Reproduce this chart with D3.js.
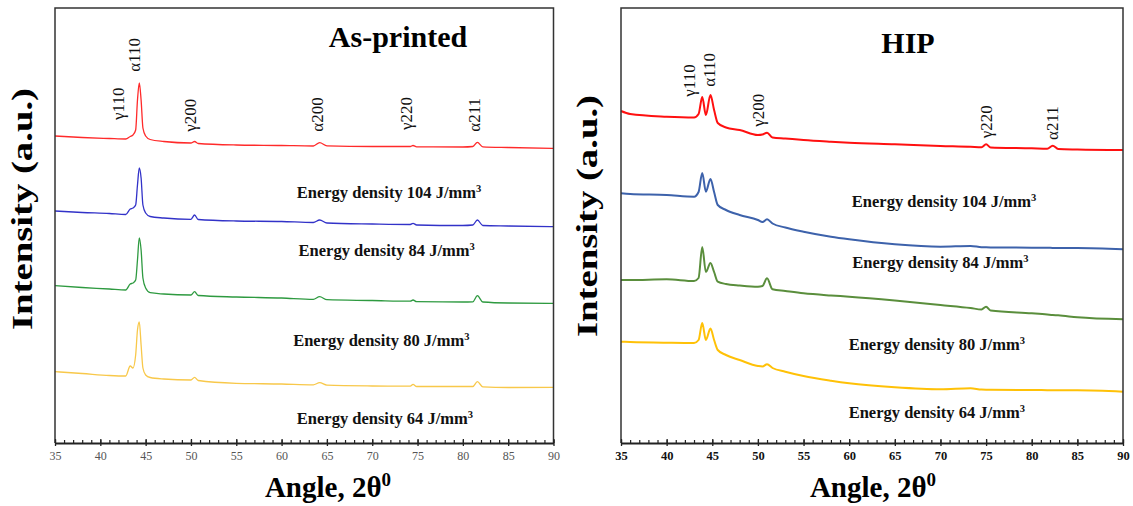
<!DOCTYPE html>
<html><head><meta charset="utf-8">
<script src="https://cdn.jsdelivr.net/npm/d3@7"></script>
<style>
html,body{margin:0;padding:0;background:#fff;}
svg{display:block;}
text{font-family:"Liberation Serif","Times New Roman",serif;}
</style></head>
<body>
<svg id="chart" width="1133" height="506"></svg>
<script>
// ---------- DATA ----------
const xTicks = [35,40,45,50,55,60,65,70,75,80,85,90];

// As-printed panel: shared angle grid (2θ)
const leftAngles = [35,38,41,42.8,43.3,43.6,43.9,44.1,44.3,44.5,44.7,45,45.5,47,50,50.4,50.8,55,60,63.5,64.2,65,70,74.2,74.5,74.9,80,81.1,81.6,82.2,85,90];
const leftRed104 = [307,305.5,304.5,304,306.5,308,313,343,360,343,315,307,303.5,301.5,300,301.5,299.5,298,297.5,297,300.3,297.2,296.5,296.5,297.5,296.2,296,296.5,300.7,296.2,295.5,294.7];
const leftBlue84 = [232,230.5,229.5,228.5,234,235,238,258,275,265,238,230,226.5,225,223.7,228,223.5,222,221.5,220.5,223,220,219,218.5,219.7,218,217.5,218,223,217.5,217,216.3];
const leftGreen80 = [157.3,155.5,154,153,159,160,163,183,205,193,165,155,150.3,149,148,151.3,147.5,146,145,143.7,146.3,143.3,142.5,141.8,143,141.3,141,141.2,147.3,141,140,139.7];
const leftYellow64 = [71.3,69.5,67.5,67,77,75,88,113,121,98,75,68,65.5,64,63,65.7,62.5,59.7,59,58.2,60.3,57.8,57,56.8,58.7,56.5,56.5,56.5,61.3,56.2,55.5,55.7];

// HIP panel: shared angle grid (2θ)
const rightAngles = [35,36,40,43,43.5,43.9,44.3,44.8,45.2,45.6,46.5,48,50,50.5,51,51.6,53,55,58,60,65,70,73.3,74.5,75,75.5,80,81.7,82.3,82.9,85,90];
const rightRed104 = [332,329,326.3,325.5,329,346,328,348,333,320,315.5,313,308,308.5,310.3,305.5,304.5,303,301.3,300.3,298.7,297,296.2,295.7,298.7,295.5,294.7,294.2,297.3,294,293.5,293];
const rightBlue84 = [249.7,249,248,246.3,251,270,251.3,264,251,238,233,228,223,221,223.7,219.5,215.5,211.3,206.3,203.7,198.7,196.3,197,195.8,195.7,195.6,195.3,195.2,195.1,195,195,193.7];
const rightGreen80 = [163,163,163.7,162,165,196,171,180,171,161.3,159,157.5,156.3,157,164.7,153.7,152,149.7,147.5,146.3,142.5,138,135,133.5,136.3,132.5,129.7,128.5,128,127.7,125.7,123.7];
const rightYellow64 = [101.3,101,100.3,100,103,120,103,114.5,103,93,88,83,77,76.5,78.7,75,71.3,67,62.3,59.7,55.7,53.7,54.7,53.4,53.3,53.3,53,52.8,52.7,52.7,52.7,51.3];

// Peak annotations (angle, intensity at label foot)
const leftPeakNames = ["γ110","α110","γ200","α200","γ220","α211"];
const leftPeakAngles = [42.6,44.43,50.6,64.6,74.35,81.9];
const leftPeakLevels = [323,371.3,311.3,311.3,313,311.3];
const rightPeakNames = ["γ110","α110","γ200","γ220","α211"];
const rightPeakAngles = [43.1,45.3,50.67,75.6,82.9];
const rightPeakLevels = [346.3,356.3,316.3,304.7,303];

// Energy density labels
const energyValues = ["104","84","80","64"];
const leftEnergyLevels = [244.7,187,97,19];
const rightEnergyLevels = [236.3,174.7,93,24.7];
const leftEnergyAngles = [71.85,71.6,71.0,71.4];
const rightEnergyAngles = [70.4,70,69.6,69.6];

// ---------- DRAW ----------
const svg = d3.select("#chart");
const TOP = 8, BOTTOM = 443;
const y = d3.scaleLinear().domain([0,435]).range([BOTTOM,TOP]);

function panel(cfg){
  const x = d3.scaleLinear().domain([35,90]).range([cfg.x0,cfg.x1]);
  const g = svg.append("g");
  // series
  const line = d3.line().x(d=>x(d[0])).y(d=>y(d[1])).curve(d3.curveMonotoneX);
  cfg.series.forEach(s=>{
    g.append("path").datum(cfg.angles.map((a,i)=>[a,s.values[i]]))
      .attr("d",line).attr("fill","none").attr("stroke",s.color)
      .attr("stroke-width",cfg.lw).attr("stroke-linejoin","round");
  });
  // frame
  g.append("path").attr("d",`M${cfg.x0},${BOTTOM}V${TOP}H${cfg.x1}V${BOTTOM}`)
    .attr("fill","none").attr("stroke","#333").attr("stroke-width",1.5);
  // minor ticks (upward)
  const minor = d3.axisBottom(x).tickValues(d3.range(35,91,1)).tickSize(-3).tickFormat("");
  const gm = g.append("g").attr("transform",`translate(0,${BOTTOM})`).call(minor);
  gm.select(".domain").remove();
  gm.selectAll("line").attr("stroke","#222").attr("stroke-width",1.2);
  // major axis
  const major = d3.axisBottom(x).tickValues(xTicks).tickSize(3).tickSizeOuter(0).tickPadding(5);
  const ga = g.append("g").attr("transform",`translate(0,${BOTTOM})`).call(major);
  ga.select(".domain").attr("stroke","#222").attr("stroke-width",2);
  ga.selectAll("line").attr("stroke","#222").attr("stroke-width",1.3).attr("y1",-4);
  ga.selectAll("text").style("font-family",'"Liberation Serif",serif')
    .style("font-size",cfg.tickSize+"px").style("font-weight",cfg.tickWeight)
    .attr("fill",cfg.tickColor).attr("dy","0.71em");
  // peak labels
  cfg.peakNames.forEach((n,i)=>{
    const px = x(cfg.peakAngles[i]), py = y(cfg.peakLevels[i]);
    g.append("text").attr("transform",`translate(${px},${py}) rotate(-90)`)
      .attr("text-anchor","start").style("font-size","17px").attr("fill","#111").text(n);
  });
  // energy labels
  energyValues.forEach((v,i)=>{
    const t = g.append("text").attr("x",x(cfg.energyAngles[i])).attr("y",y(cfg.energyLevels[i]))
      .attr("text-anchor","middle").style("font-size","16.5px").style("font-weight","bold").attr("fill","#111");
    t.append("tspan").text(`Energy density ${v} J/mm`);
    t.append("tspan").attr("dy",-6).style("font-size","10.5px").text("3");
  });
  // title
  g.append("text").attr("x",cfg.titleX).attr("y",cfg.titleY).attr("text-anchor","middle")
    .style("font-size","30px").style("font-weight","bold").attr("fill","#000").text(cfg.title);
  // x axis title
  const xt = g.append("text").attr("x",cfg.xTitleX).attr("y",497).attr("text-anchor","middle")
    .style("font-size","29px").style("font-weight","bold").attr("fill","#000");
  xt.append("tspan").text("Angle, 2θ");
  xt.append("tspan").attr("dy",-11).style("font-size","19px").text("0");
  // y axis title
  svg.append("text").attr("transform",`translate(${cfg.yTitleX},${cfg.yTitleY}) rotate(-90)`)
    .attr("text-anchor","middle").style("font-size","30px").style("font-weight","bold")
    .attr("textLength",242).attr("lengthAdjust","spacingAndGlyphs").attr("fill","#000")
    .text("Intensity (a.u.)");
}

panel({
  x0:55, x1:553.5, lw:1.3, angles:leftAngles,
  series:[
    {values:leftRed104,color:"#ff2a2a"},
    {values:leftBlue84,color:"#3232c8"},
    {values:leftGreen80,color:"#2e9a40"},
    {values:leftYellow64,color:"#f8c84a"}
  ],
  tickSize:12, tickWeight:"normal", tickColor:"#555",
  peakNames:leftPeakNames, peakAngles:leftPeakAngles, peakLevels:leftPeakLevels,
  energyLevels:leftEnergyLevels, energyAngles:leftEnergyAngles,
  title:"As-printed", titleX:398, titleY:47,
  xTitleX:328, yTitleX:32, yTitleY:209
});
panel({
  x0:621, x1:1123, lw:2, angles:rightAngles,
  series:[
    {values:rightRed104,color:"#ff1010"},
    {values:rightBlue84,color:"#3d62ab"},
    {values:rightGreen80,color:"#5a8e3c"},
    {values:rightYellow64,color:"#ffc107"}
  ],
  tickSize:12.5, tickWeight:"bold", tickColor:"#111",
  peakNames:rightPeakNames, peakAngles:rightPeakAngles, peakLevels:rightPeakLevels,
  energyLevels:rightEnergyLevels, energyAngles:rightEnergyAngles,
  title:"HIP", titleX:908, titleY:53,
  xTitleX:873, yTitleX:597, yTitleY:216
});
</script>
</body></html>
